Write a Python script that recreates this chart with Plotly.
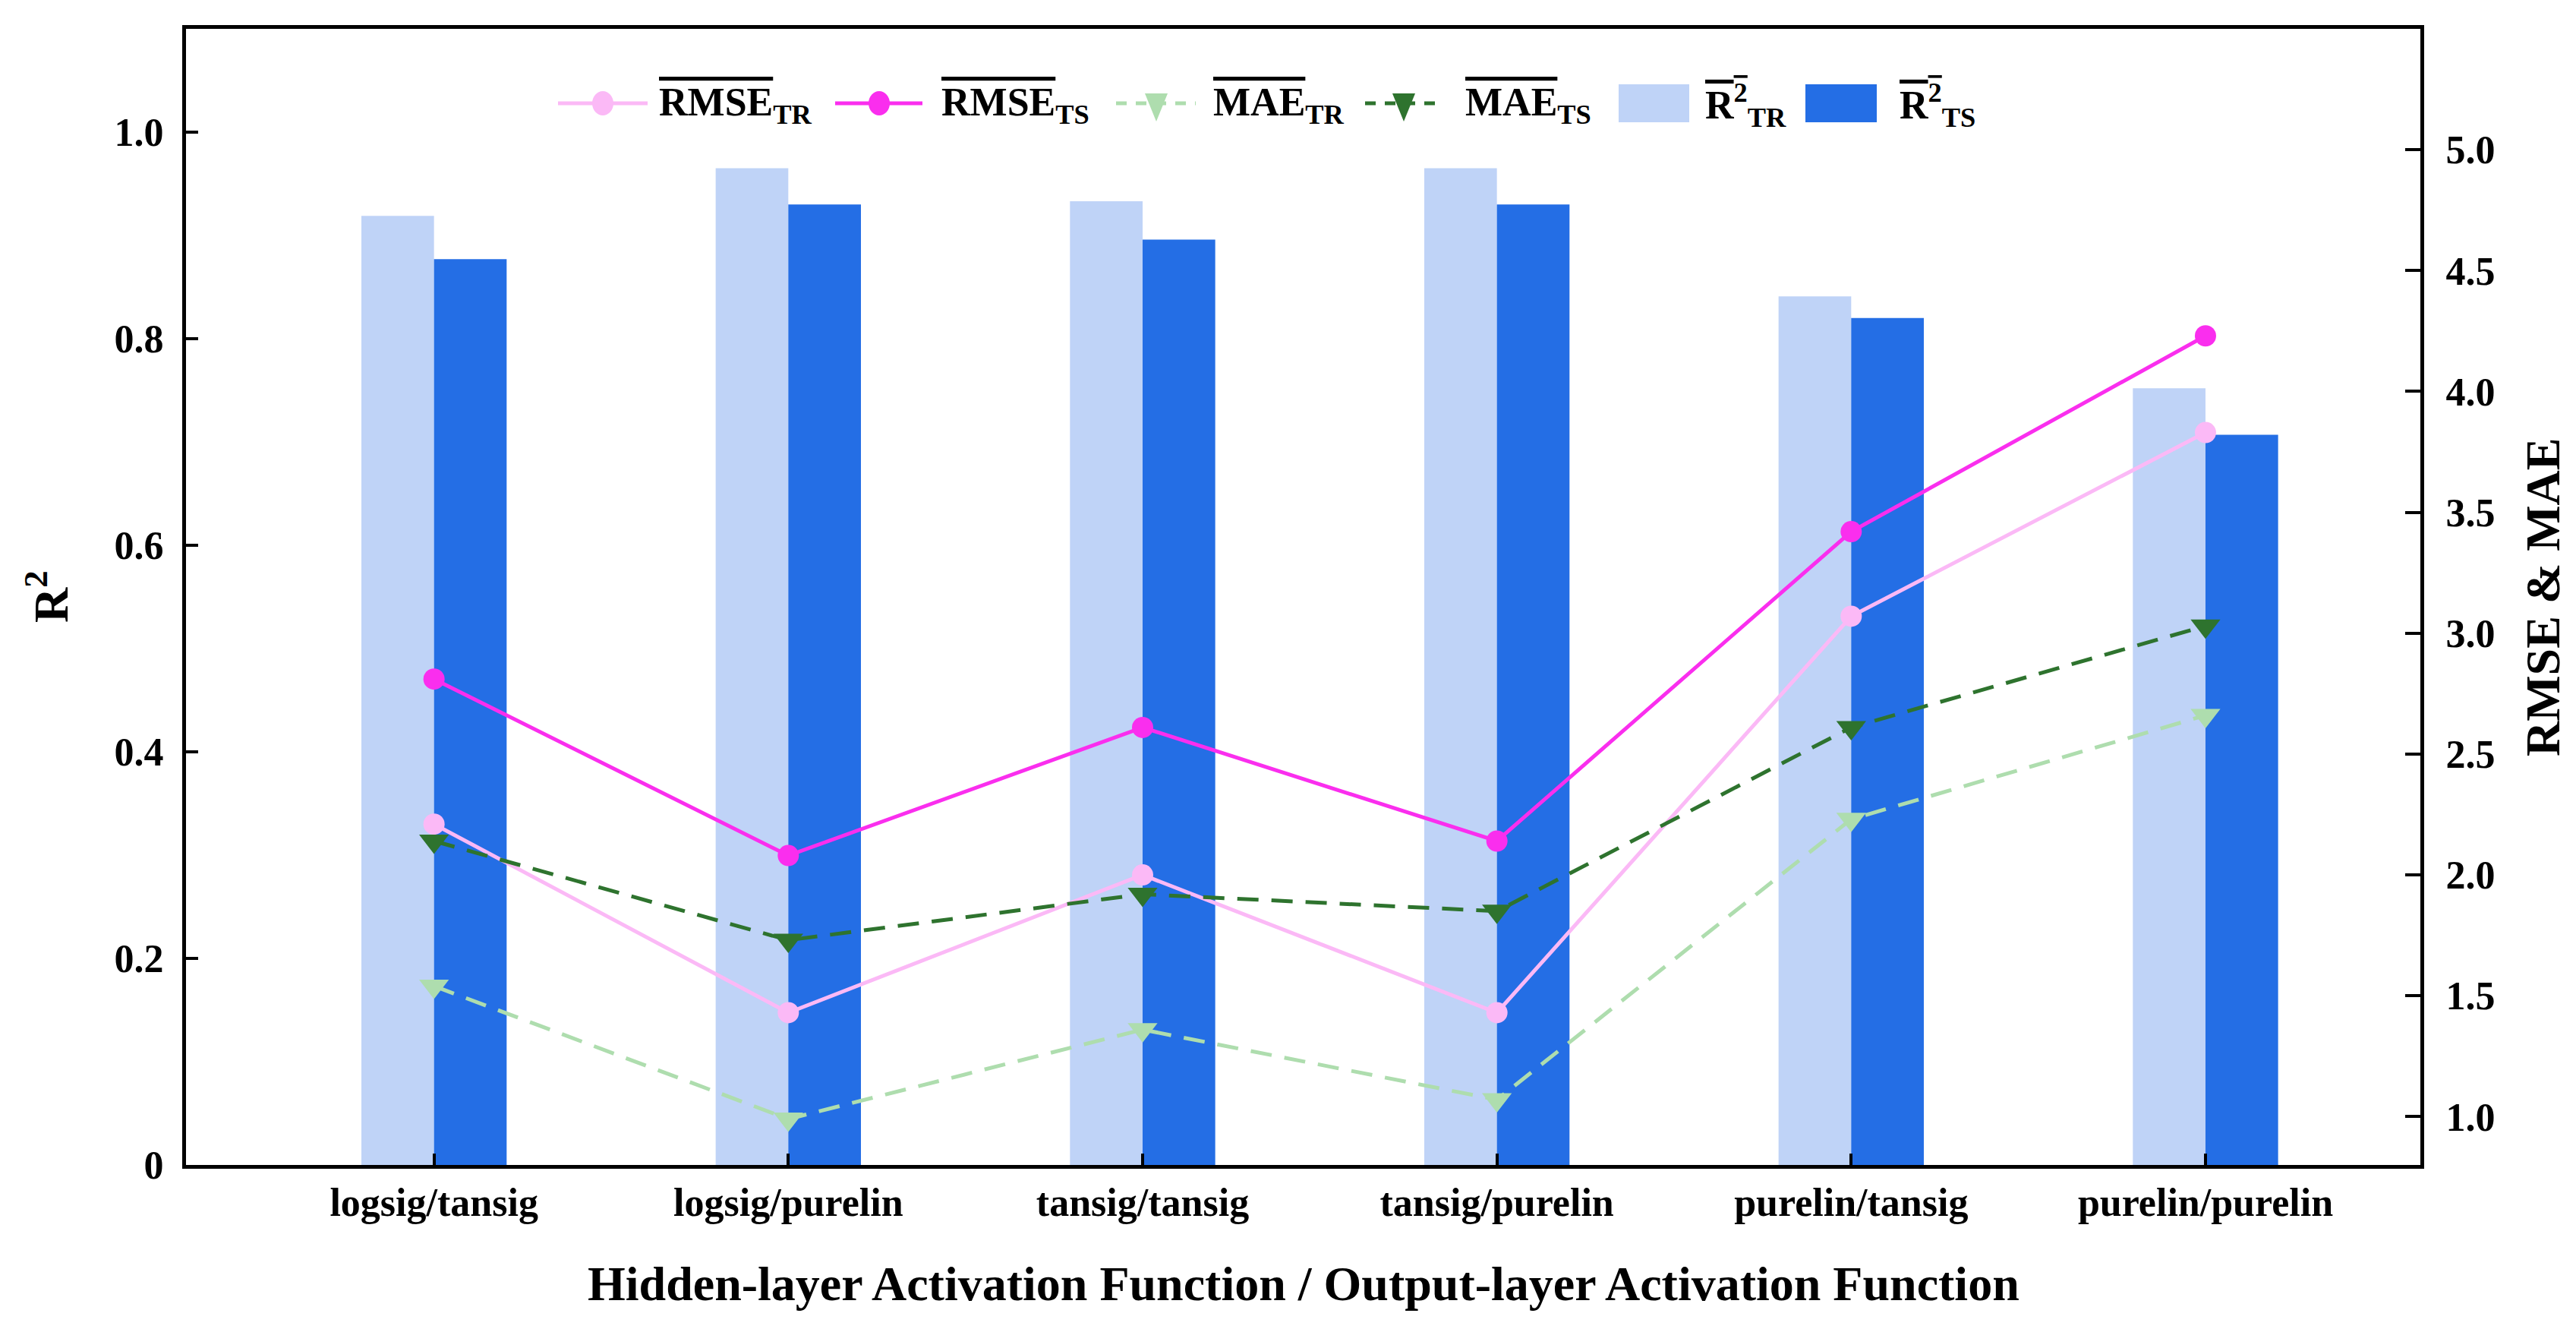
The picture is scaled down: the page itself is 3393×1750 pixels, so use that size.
import plotly.graph_objects as go

# ---------------- data ----------------
categories = ["logsig/tansig", "logsig/purelin", "tansig/tansig",
              "tansig/purelin", "purelin/tansig", "purelin/purelin"]
r2_tr = [0.919, 0.965, 0.933, 0.965, 0.841, 0.752]
r2_ts = [0.877, 0.930, 0.896, 0.930, 0.820, 0.707]
rmse_tr = [2.21, 1.43, 2.00, 1.43, 3.07, 3.83]
rmse_ts = [2.81, 2.08, 2.61, 2.14, 3.42, 4.23]
mae_tr = [1.54, 0.99, 1.36, 1.07, 2.23, 2.66]
mae_ts = [2.14, 1.73, 1.92, 1.85, 2.61, 3.03]
left_ticks = [0, 0.2, 0.4, 0.6, 0.8, 1.0]
left_ticktext = ["0", "0.2", "0.4", "0.6", "0.8", "1.0"]
right_ticks = [1.0, 1.5, 2.0, 2.5, 3.0, 3.5, 4.0, 4.5, 5.0]

# ---------------- style ----------------
C_R2TR = "#BFD3F7"
C_R2TS = "#246EE5"
C_RMSETR = "#FBB9F6"
C_RMSETS = "#FA2EEE"
C_MAETR = "#AEDDAE"
C_MAETS = "#2E732E"
FONT = "Liberation Serif"
DASH = "28px,17px"

W, H = 3393, 1750
ML, MR, MT, MB = 237, 213, 30, 224
PW, PH = W - ML - MR, H - MT - MB

fig = go.Figure()
fig.add_trace(go.Bar(x=categories, y=r2_tr, marker=dict(color=C_R2TR, line_width=0),
                     name="R2 TR", showlegend=False))
fig.add_trace(go.Bar(x=categories, y=r2_ts, marker=dict(color=C_R2TS, line_width=0),
                     name="R2 TS", showlegend=False))
fig.add_trace(go.Scatter(x=categories, y=rmse_tr, yaxis="y2", mode="lines+markers",
                         line=dict(color=C_RMSETR, width=5),
                         marker=dict(color=C_RMSETR, size=28, symbol="circle"),
                         showlegend=False))
fig.add_trace(go.Scatter(x=categories, y=rmse_ts, yaxis="y2", mode="lines+markers",
                         line=dict(color=C_RMSETS, width=5),
                         marker=dict(color=C_RMSETS, size=28, symbol="circle"),
                         showlegend=False))
fig.add_trace(go.Scatter(x=categories, y=mae_tr, yaxis="y2", mode="lines+markers",
                         line=dict(color=C_MAETR, width=5, dash=DASH),
                         marker=dict(color=C_MAETR, size=34, symbol="triangle-down"),
                         showlegend=False))
fig.add_trace(go.Scatter(x=categories, y=mae_ts, yaxis="y2", mode="lines+markers",
                         line=dict(color=C_MAETS, width=5, dash=DASH),
                         marker=dict(color=C_MAETS, size=34, symbol="triangle-down"),
                         showlegend=False))


# ---------------- custom legend (layout decoration) ----------------
def px(xr):
    return (xr - ML) / PW


def py(yr):
    return (MT + PH - yr) / PH


shapes = []
annotations = []
LEG_Y = 128
OL = 'text-decoration:overline'


def leg_line(x0, x1, color, dash=None):
    shapes.append(dict(type="line", xref="paper", yref="paper", x0=px(x0), x1=px(x1),
                       y0=py(LEG_Y), y1=py(LEG_Y),
                       line=dict(color=color, width=5, dash=dash)))


def leg_circle(xc, color):
    shapes.append(dict(type="circle", xref="paper", yref="paper", xsizemode="pixel",
                       ysizemode="pixel", xanchor=px(xc), yanchor=py(LEG_Y),
                       x0=-14, x1=14, y0=-16, y1=16,
                       fillcolor=color, line=dict(width=0)))


def leg_tri(xc, color):
    shapes.append(dict(type="path", xref="paper", yref="paper", xsizemode="pixel",
                       ysizemode="pixel", xanchor=px(xc), yanchor=py(LEG_Y),
                       path="M-15,13 L15,13 L0,-24 Z",
                       fillcolor=color, line=dict(width=0)))


def leg_rect(x0, x1, color):
    shapes.append(dict(type="rect", xref="paper", yref="paper", x0=px(x0), x1=px(x1),
                       y0=py(LEG_Y + 25), y1=py(LEG_Y - 25),
                       fillcolor=color, line=dict(width=0)))


def leg_text(x0, txt):
    annotations.append(dict(xref="paper", yref="paper", x=px(x0), y=py(LEG_Y + 2),
                            xanchor="left", yanchor="middle", showarrow=False, text=txt,
                            font=dict(family=FONT, size=52, color="black", weight="bold")))


leg_line(727, 845, C_RMSETR); leg_circle(786, C_RMSETR)
leg_text(858, f'<span style="{OL}">RMSE</span><sub>TR</sub>')
leg_line(1092, 1207, C_RMSETS); leg_circle(1150, C_RMSETS)
leg_text(1230, f'<span style="{OL}">RMSE</span><sub>TS</sub>')
leg_line(1462, 1567, C_MAETR, "14px,12px"); leg_tri(1515, C_MAETR)
leg_text(1588, f'<span style="{OL}">MAE</span><sub>TR</sub>')
leg_line(1790, 1892, C_MAETS, "14px,12px"); leg_tri(1841, C_MAETS)
leg_text(1920, f'<span style="{OL}">MAE</span><sub>TS</sub>')
leg_rect(2124, 2217, C_R2TR)
leg_text(2236, f'<span style="{OL}">R<sup>2</sup></span><sub>TR</sub>')
leg_rect(2370, 2464, C_R2TS)
leg_text(2492, f'<span style="{OL}">R<sup>2</sup></span><sub>TS</sub>')

# axis titles
annotations.append(dict(xref="paper", yref="paper", x=0.5, y=py(1682), xanchor="center",
                        yanchor="middle", showarrow=False,
                        text="Hidden-layer Activation Function / Output-layer Activation Function",
                        font=dict(family=FONT, size=64, color="black", weight="bold")))
annotations.append(dict(xref="paper", yref="paper", x=px(54), y=0.5, xanchor="center",
                        yanchor="middle", showarrow=False, textangle=-90,
                        text="R<sup>2</sup>",
                        font=dict(family=FONT, size=64, color="black", weight="bold")))
annotations.append(dict(xref="paper", yref="paper", x=px(3341), y=0.5, xanchor="center",
                        yanchor="middle", showarrow=False, textangle=-90,
                        text="RMSE &amp; MAE",
                        font=dict(family=FONT, size=64, color="black", weight="bold")))

tickfont = dict(family=FONT, size=52, color="black", weight="bold")

fig.update_layout(
    width=W, height=H,
    margin=dict(l=ML, r=MR, t=MT, b=MB, pad=0),
    paper_bgcolor="white", plot_bgcolor="white",
    barmode="group", bargap=0.59, bargroupgap=0,
    showlegend=False,
    shapes=shapes, annotations=annotations,
    xaxis=dict(type="category", range=[-0.70, 5.6065], showline=True, linewidth=5,
               linecolor="black", mirror=True, ticks="inside", ticklen=15, tickwidth=4,
               tickcolor="black", tickfont=tickfont, showgrid=False, zeroline=False),
    yaxis=dict(range=[0, 1.1], tickvals=left_ticks, ticktext=left_ticktext,
               showline=True, linewidth=5, linecolor="black", ticks="inside", ticklen=16,
               tickwidth=4, tickcolor="black", tickfont=tickfont, showgrid=False,
               zeroline=False, ticklabelstandoff=14),
    yaxis2=dict(range=[0.8, 5.5], tickvals=right_ticks, tickformat=".1f", overlaying="y",
                side="right", showline=True, linewidth=5, linecolor="black",
                ticks="inside", ticklen=20, tickwidth=4, tickcolor="black",
                tickfont=tickfont, showgrid=False, zeroline=False, ticklabelstandoff=18),
)

fig.write_html("out.html")
